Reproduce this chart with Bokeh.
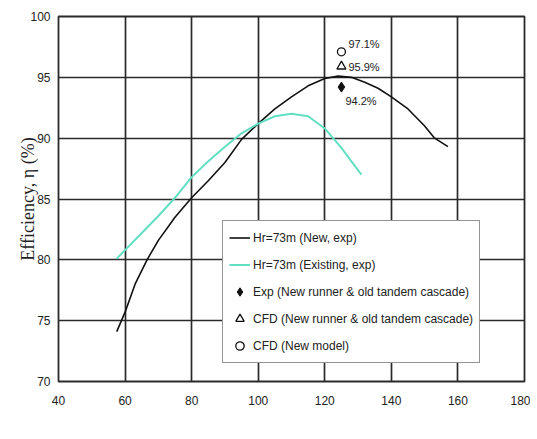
from bokeh.plotting import figure
from bokeh.models import Range1d, FixedTicker, Legend, LegendItem, Label
from bokeh.core.properties import value
from bokeh.embed import file_html
from bokeh.resources import INLINE

# ---- data ----
new_q = [57.5, 60, 63, 66.6, 70, 75, 80, 85, 90, 95, 100, 105, 110, 115, 120, 124, 128, 132, 136, 140, 145, 150, 153, 157]
new_eta = [74.1, 75.7, 78.0, 80.0, 81.6, 83.5, 85.1, 86.5, 88.0, 89.9, 91.2, 92.4, 93.4, 94.3, 94.9, 95.1, 95.0, 94.6, 94.1, 93.4, 92.4, 91.0, 90.0, 89.3]

old_q = [57.5, 60, 65, 70, 75, 80, 85, 90, 95, 100, 105, 110, 115, 120, 125, 128, 131]
old_eta = [80.1, 80.8, 82.2, 83.6, 85.1, 86.8, 88.1, 89.3, 90.4, 91.2, 91.8, 92.0, 91.8, 90.8, 89.2, 88.1, 87.0]

exp_tandem_q = [125]
exp_tandem_eta = [94.2]
cfd_tandem_q = [125]
cfd_tandem_eta = [95.9]
cfd_model_q = [125]
cfd_model_eta = [97.1]

x_ticks = [40, 60, 80, 100, 120, 140, 160, 180]
y_ticks = [70, 75, 80, 85, 90, 95, 100]

series_labels = [
    "Hr=73m (New, exp)",
    "Hr=73m (Existing, exp)",
    "Exp (New runner & old tandem cascade)",
    "CFD (New runner & old tandem cascade)",
    "CFD (New model)",
]
x_title = "Discharge, Q ( m\u00b3/s)"
y_title = "Efficiency, \u03b7 (%)"

TXT = "#222222"
GRID = "#2a2a2a"
CYAN = "#62dfc3"

p = figure(width=530, height=437, x_range=Range1d(40, 180), y_range=Range1d(70, 100),
           output_backend="svg", toolbar_location=None,
           min_border_left=58, min_border_right=6, min_border_top=16, min_border_bottom=56)

p.outline_line_color = GRID
p.outline_line_width = 1.8
p.background_fill_color = "white"
p.border_fill_color = "white"

for g in (p.xgrid, p.ygrid):
    g.grid_line_color = GRID
    g.grid_line_width = 1.7
    g.grid_line_alpha = 1
p.xgrid.ticker = FixedTicker(ticks=x_ticks)
p.ygrid.ticker = FixedTicker(ticks=y_ticks)

for ax in (p.xaxis[0], p.yaxis[0]):
    ax.axis_line_color = None
    ax.major_tick_line_color = None
    ax.minor_tick_line_color = None
    ax.major_tick_out = 0
    ax.major_tick_in = 0
    ax.major_label_text_font = "Liberation Sans"
    ax.major_label_text_font_size = "12px"
    ax.major_label_text_color = TXT
p.xaxis.ticker = FixedTicker(ticks=x_ticks)
p.yaxis.ticker = FixedTicker(ticks=y_ticks)
p.xaxis.major_label_standoff = 14
p.yaxis.major_label_standoff = 8

p.yaxis.axis_label = y_title
p.yaxis.axis_label_text_font = "Liberation Serif"
p.yaxis.axis_label_text_font_size = "18px"
p.yaxis.axis_label_text_font_style = "normal"
p.yaxis.axis_label_text_color = TXT
p.yaxis.axis_label_standoff = -11

r_new = p.line(new_q, new_eta, line_color="#111111", line_width=1.6)
r_old = p.line(old_q, old_eta, line_color=CYAN, line_width=2)
r_exp = p.scatter(exp_tandem_q, exp_tandem_eta, marker="diamond", size=10,
                  fill_color="#111111", line_color="#111111")
r_cfdt = p.scatter(cfd_tandem_q, cfd_tandem_eta, marker="triangle", size=9,
                   fill_color=None, line_color="#111111", line_width=1.3)
r_cfdm = p.scatter(cfd_model_q, cfd_model_eta, marker="circle", size=8,
                   fill_color=None, line_color="#111111", line_width=1.3)

lab_font = value("Liberation Sans")
p.text(cfd_model_q, cfd_model_eta, text=[f"{v}%" for v in cfd_model_eta], x_offset=7, y_offset=-8,
       text_font=lab_font, text_font_size="11px", text_color=TXT, text_baseline="middle")
p.text(cfd_tandem_q, cfd_tandem_eta, text=[f"{v}%" for v in cfd_tandem_eta], x_offset=7, y_offset=1,
       text_font=lab_font, text_font_size="11px", text_color=TXT, text_baseline="middle")
p.text(exp_tandem_q, exp_tandem_eta, text=[f"{v}%" for v in exp_tandem_eta], x_offset=4, y_offset=14,
       text_font=lab_font, text_font_size="11px", text_color=TXT, text_baseline="middle")

legend = Legend(items=[
    LegendItem(label=series_labels[0], renderers=[r_new]),
    LegendItem(label=series_labels[1], renderers=[r_old]),
    LegendItem(label=series_labels[2], renderers=[r_exp]),
    LegendItem(label=series_labels[3], renderers=[r_cfdt]),
    LegendItem(label=series_labels[4], renderers=[r_cfdm]),
], location=(164, 18))
legend.border_line_color = GRID
legend.border_line_width = 1.6
legend.background_fill_color = "white"
legend.background_fill_alpha = 1
legend.label_text_font = "Liberation Sans"
legend.label_text_font_size = "12px"
legend.label_text_color = TXT
legend.glyph_width = 21
legend.glyph_height = 21
legend.label_height = 21
legend.label_standoff = 3
legend.padding = 6
legend.spacing = 6
legend.margin = 0
p.add_layout(legend)

xl = Label(x=104, y=66.15, text=x_title, text_font="Liberation Serif", text_font_size="17px",
           text_color=TXT, text_align="center", text_baseline="middle")
p.add_layout(xl)

open("out.html", "w").write(file_html(p, INLINE))
